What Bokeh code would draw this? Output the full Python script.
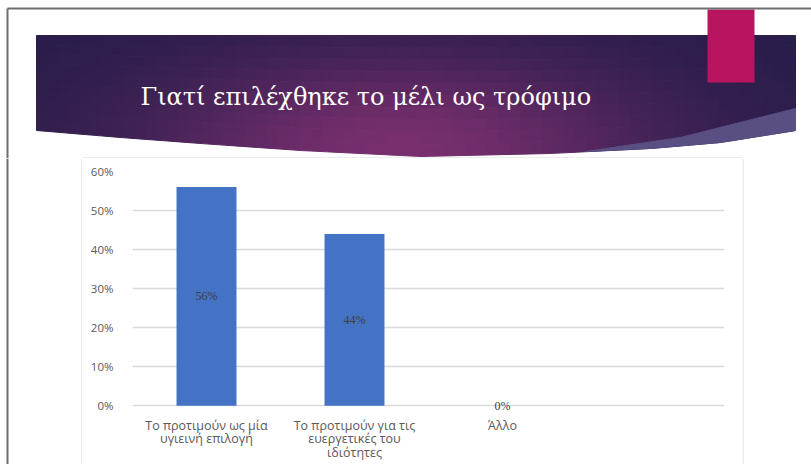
import numpy as np
from bokeh.plotting import figure
from bokeh.models import (Range1d, FactorRange, NumeralTickFormatter, FixedTicker,
                          ColumnDataSource, LabelSet)
from bokeh.layouts import column, row
from bokeh.core.properties import value
from bokeh.embed import file_html
from bokeh.resources import INLINE

# ---------------- data ----------------
title_text = "Γιατί επιλέχθηκε το μέλι ως τρόφιμο"
categories = ["Το προτιμούν ως μία\nυγιεινή επιλογή",
              "Το προτιμούν για τις\nευεργετικές του\nιδιότητες",
              "Άλλο",
              " "]
values = [0.56, 0.44, 0.0]
value_labels = ["56%", "44%", "0%"]
y_ticks = [0.0, 0.1, 0.2, 0.3, 0.4, 0.5, 0.6]

FONT = "Open Sans"


def blank(w, h, xr, yr):
    f = figure(width=w, height=h, x_range=Range1d(*xr), y_range=Range1d(*yr),
               output_backend="svg", toolbar_location=None,
               x_axis_location=None, y_axis_location=None, min_border=0,
               outline_line_color=None, background_fill_color="white",
               border_fill_color="white", frame_align=False)
    f.grid.visible = False
    return f


# ---------------- header (slide title banner) ----------------
hdr = blank(811, 158, (0, 811), (158, 0))

bx = [36, 120, 200, 300, 420, 550, 650, 720, 795]
by = [130, 137, 143, 150, 156, 153, 148, 142, 130]
top_y = 35
dark = np.array([40, 29, 74])
glow = np.array([120, 47, 110])


def hexcol(c):
    c = np.clip(c, 0, 255).astype(int)
    return "#%02x%02x%02x" % tuple(c)


edges = np.linspace(36, 795, 70)
nrows = 10
pxs, pys, pcols = [], [], []
for i in range(len(edges) - 1):
    x0, x1 = edges[i], edges[i + 1]
    b0, b1 = np.interp(x0, bx, by), np.interp(x1, bx, by)
    for j in range(nrows):
        t0, t1 = j / nrows, (j + 1) / nrows
        yl0 = top_y + t0 * (b0 - top_y)
        yl1 = top_y + t1 * (b0 - top_y)
        yr0 = top_y + t0 * (b1 - top_y)
        yr1 = top_y + t1 * (b1 - top_y)
        pxs.append([x0, x1, x1, x0])
        pys.append([yl0, yr0, yr1, yl1])
        cx = (x0 + x1) / 2
        cy = (yl0 + yl1 + yr0 + yr1) / 4
        w = np.exp(-((cx - 400) / 250) ** 2 - ((cy - 150) / 95) ** 2)
        pcols.append(hexcol(dark + w * (glow - dark)))
hdr.patches(pxs, pys, fill_color=pcols, line_color=pcols, line_width=1)

# lighter swoosh on the right
hdr.patch([585, 680, 795, 795, 720, 650], [151, 137, 108, 130, 142, 148],
          fill_color="#5a4f82", line_color="#5a4f82")

# pink accent bar
hdr.quad(left=707, right=754, top=9, bottom=82, fill_color="#b8145f", line_color=None)

# title
hdr.text(x=[140], y=[96], text=[title_text], text_color="white",
         text_font=value("DejaVu Serif"), text_font_size="24px",
         text_baseline="alphabetic", text_align="left")

# page borders
hdr.line([7, 811], [8, 8], line_color="#6e6e6e", line_width=2)
hdr.line([7, 7], [8, 158], line_color="#6e6e6e", line_width=2)
# chart box top edge
hdr.line([82, 742], [157.5, 157.5], line_color="#d9d9d9", line_width=1)

# ---------------- bottom side strips ----------------
left = blank(82, 306, (0, 82), (306, 0))
left.line([7, 7], [0, 306], line_color="#6e6e6e", line_width=2)
left.line([81.5, 81.5], [0, 306], line_color="#d9d9d9", line_width=1)

right = blank(69, 306, (0, 69), (306, 0))
right.line([0.5, 0.5], [0, 306], line_color="#d9d9d9", line_width=1)

# ---------------- chart ----------------
# y range extends slightly below 0 so the "0%" data label is not clipped
p = figure(width=660, height=306, x_range=FactorRange(factors=categories),
           y_range=Range1d(-0.025, 0.6), output_backend="svg", toolbar_location=None,
           min_border_left=50, min_border_right=18, min_border_top=13,
           min_border_bottom=47, outline_line_color=None,
           background_fill_color="white", border_fill_color="white",
           frame_align=False)

src = ColumnDataSource(dict(cat=categories[:3], val=values,
                            mid=[v / 2 for v in values], lab=value_labels))
p.vbar(x="cat", top="val", width=0.405, source=src,
       fill_color="#4472C4", line_color=None)
labels = LabelSet(x="cat", y="mid", text="lab", source=src, text_color="#404040",
                  text_font=FONT, text_font_size="12px",
                  text_align="center", text_baseline="middle")
p.add_layout(labels)

p.xgrid.visible = False
p.ygrid.grid_line_color = "#d9d9d9"
p.ygrid.grid_line_width = 1.5

p.yaxis.ticker = FixedTicker(ticks=y_ticks)
p.yaxis.formatter = NumeralTickFormatter(format="0%")
p.yaxis.axis_line_color = None
p.yaxis.major_tick_line_color = None
p.yaxis.minor_tick_line_color = None
p.yaxis.major_label_standoff = 13
p.yaxis.major_label_text_color = "#595959"
p.yaxis.major_label_text_font = FONT
p.yaxis.major_label_text_font_size = "11.5px"

p.xaxis.axis_line_color = None
p.xaxis.major_tick_line_color = None
p.xaxis.minor_tick_line_color = None
p.xaxis.major_label_standoff = -5
p.xaxis.major_label_text_color = "#595959"
p.xaxis.major_label_text_font = FONT
p.xaxis.major_label_text_font_size = "12.5px"
p.xaxis.major_label_text_line_height = 0.82

layout = column(hdr, row(left, p, right, spacing=0), spacing=0)

open("out.html", "w").write(file_html(layout, INLINE))
